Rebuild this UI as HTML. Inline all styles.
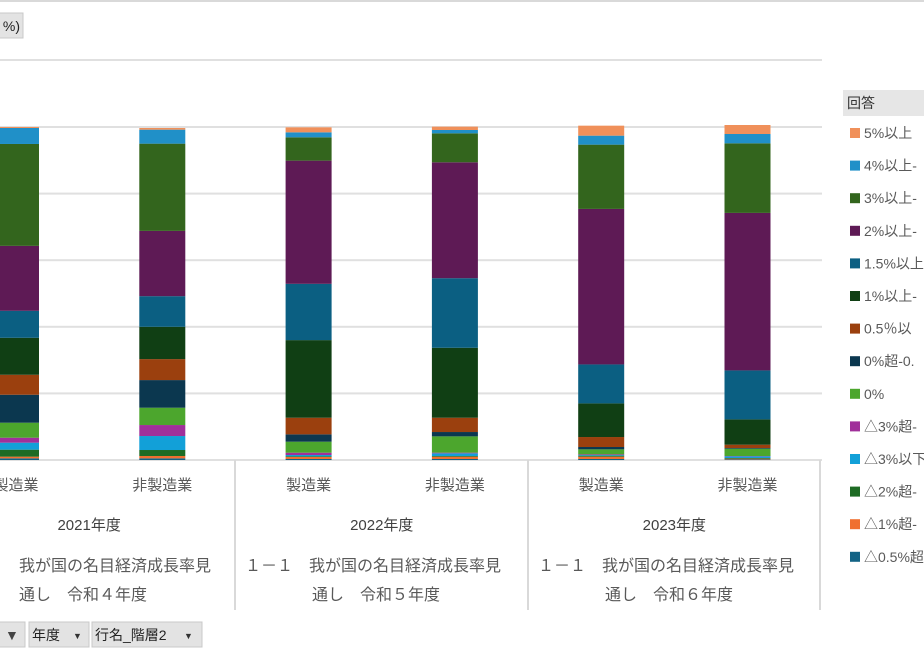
<!DOCTYPE html>
<html><head><meta charset="utf-8">
<style>
body{margin:0;width:924px;height:660px;overflow:hidden;background:#fff;font-family:"Liberation Sans","Noto Sans CJK JP",sans-serif;}
svg text{font-family:"Liberation Sans","Noto Sans CJK JP",sans-serif;}
</style></head><body>
<svg id="chart" width="924" height="660" viewBox="0 0 924 660" xmlns="http://www.w3.org/2000/svg">
<rect x="0" y="0" width="924" height="2" fill="#d9d9d9"/>
<g>
<rect x="-10" y="13" width="33" height="25" fill="#e3e3e3" stroke="#c8c8c8"/>
<text x="20" y="31" font-size="14" text-anchor="end" fill="#222">%)</text>
</g>
<rect x="0" y="59" width="822" height="2" fill="#e0e0e0"/>
<g id="grid"></g>
<g id="bars"></g>
<g id="xaxis"></g>
<g id="legend">
<rect x="843" y="90" width="81" height="26" fill="#e6e6e6"/>
<text x="847" y="108" font-size="14" fill="#333">回答</text>
</g>
<g>
<g><rect x="-5" y="622" width="30" height="25" fill="#e3e3e3" stroke="#c8c8c8"/><text x="5" y="640" font-size="14" fill="#444">▼</text></g>
<g><rect x="29" y="622" width="60" height="25" fill="#e3e3e3" stroke="#c8c8c8"/><text x="32" y="640" font-size="14" fill="#222">年度</text><text x="73" y="639" font-size="9" fill="#333">▼</text></g>
<g><rect x="92" y="622" width="110" height="25" fill="#e3e3e3" stroke="#c8c8c8"/><text x="95" y="640" font-size="14" fill="#222">行名_階層2</text><text x="184" y="639" font-size="9" fill="#333">▼</text></g>
</g>
</svg>
<script>
const seriesNames=["△0.5%超","△1%超","△2%超","△3%以下","△3%超","0%","0%超-0.5%","0.5%以上","1%以上","1.5%以上","2%以上","3%以上","4%以上","5%以上"];
const legendLabels=["5%以上","4%以上-","3%以上-","2%以上-","1.5%以上","1%以上-","0.5％以","0%超-0.","0%","△3%超-","△3%以下","△2%超-","△1%超-","△0.5%超"];
const seriesColors=["#136385","#F07030","#1E6B24","#12A0D8","#A0309A","#4CA62D","#0B374F","#9B400E","#103F14","#0B5F82","#5E1A55","#33651D","#2090C8","#F0905A"];
const categories=["製造業","非製造業","製造業","非製造業","製造業","非製造業"];
const years=["2021年度","2022年度","2023年度"];
const s_m05=[0.5,0.5,0.3,0.3,0.3,0.2];
const s_m1=[0.5,0.7,0.6,0.7,0.7,0.2];
const s_m2=[2.1,1.8,0.2,0.2,0.3,0.2];
const s_m3le=[2.1,4.2,0.4,0.8,0.2,0.5];
const s_m3gt=[1.5,3.3,0.7,0.2,0.2,0.1];
const s_0=[4.5,5.2,3.3,4.9,1.5,2.2];
const s_0gt=[8.4,8.3,2.2,1.3,0.7,0.2];
const s_05=[6.0,6.3,5.0,4.3,3.0,1.0];
const s_1=[11.1,9.7,23.3,21.0,10.1,7.6];
const s_15=[8.1,9.2,16.9,20.9,11.7,14.7];
const s_2=[19.5,19.6,37.0,34.8,46.7,47.3];
const s_3=[30.6,26.2,7.0,8.7,19.3,20.9];
const s_4=[4.8,4.2,1.5,1.0,2.7,2.8];
const s_5=[0.3,0.5,1.5,1.0,3.0,2.7];
const seriesValues=[s_m05,s_m1,s_m2,s_m3le,s_m3gt,s_0,s_0gt,s_05,s_1,s_15,s_2,s_3,s_4,s_5];
const yTicks=[0,20,40,60,80,100];

const NS="http://www.w3.org/2000/svg";
const yBase=460, yTop=127;
function yScale(v){return yBase-(yBase-yTop)*v/100;}
function xCenter(i){return 16+146.3*i;}
const barW=46;
function mk(tag,attrs,parent){const e=document.createElementNS(NS,tag);for(const k in attrs)e.setAttribute(k,attrs[k]);parent.appendChild(e);return e;}
const grid=document.getElementById('grid');
yTicks.forEach(t=>{
  const l=mk('rect',{x:0,y:yScale(t)-1,width:822,height:2,fill:'#e0e0e0'},grid);
  
  
});
const bars=document.getElementById('bars');
categories.forEach((c,i)=>{
  let cum=0;
  seriesValues.forEach((arr,s)=>{
    const v=arr[i];
    const y1=yScale(cum), y2=yScale(cum+v);
    const r=mk('rect',{x:xCenter(i)-barW/2,y:y2,width:barW,height:Math.max(0,y1-y2),fill:seriesColors[s]},bars);
    
    
    cum+=v;
  });
});
const xa=document.getElementById('xaxis');
[235,528,820].forEach(x=>{
  const l=mk('rect',{x:x-1,y:460,width:2,height:150,fill:'#d9d9d9'},xa);
  
  
});
categories.forEach((c,i)=>{
  const t=mk('text',{x:xCenter(i),y:490,'font-size':15,'text-anchor':'middle',fill:'#595959'},xa);
  t.textContent=c;
  
  
});
years.forEach((yv,g)=>{
  const cx=(xCenter(2*g)+xCenter(2*g+1))/2;
  const t=mk('text',{x:cx,y:530,'font-size':15,'text-anchor':'middle',fill:'#404040'},xa);
  t.textContent=yv;
  
  
});
const long=[["我が国の名目経済成長率見","通し　令和４年度",19],["１－１　我が国の名目経済成長率見","通し　令和５年度",245],["１－１　我が国の名目経済成長率見","通し　令和６年度",538]];
long.forEach(L=>{
  const t1=mk('text',{x:L[2],y:571,'font-size':16,fill:'#595959'},xa);
  t1.textContent=L[0];
  
  
  const x2=L[2]===19?19:L[2]+67;
  const t2=mk('text',{x:x2,y:600,'font-size':16,fill:'#595959'},xa);
  t2.textContent=L[1];
  
  
});
const lg=document.getElementById('legend');
legendLabels.forEach((lab,k)=>{
  const y=133+32.6*k;
  const sw=mk('rect',{x:850,y:y-5,width:10,height:10,fill:seriesColors[13-k]},lg);
  
  
  const t=mk('text',{x:864,y:y+5,'font-size':14,fill:'#595959'},lg);
  t.textContent=lab;
  
  
});
</script>
</body></html>
